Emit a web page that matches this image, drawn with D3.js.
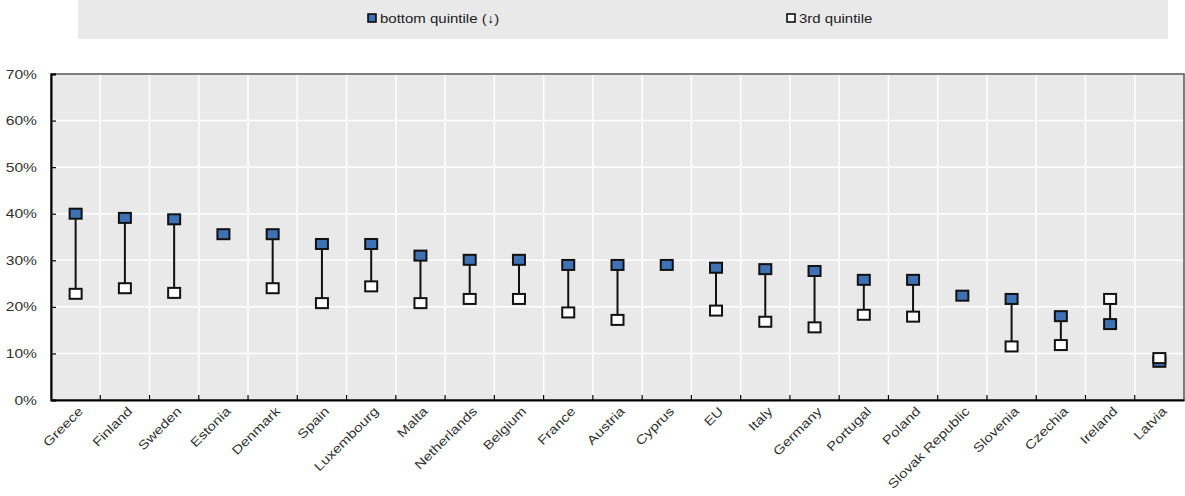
<!DOCTYPE html>
<html><head><meta charset="utf-8">
<script src="https://cdn.jsdelivr.net/npm/d3@7"></script>
<style>body{margin:0;background:#fff;}svg{display:block;font-family:"Liberation Sans",Arial,sans-serif;}</style>
</head><body><svg id="c" width="1185" height="496"></svg>
<script>
const categories = ["Greece","Finland","Sweden","Estonia","Denmark","Spain","Luxembourg","Malta","Netherlands","Belgium","France","Austria","Cyprus","EU","Italy","Germany","Portugal","Poland","Slovak Republic","Slovenia","Czechia","Ireland","Latvia"];
const bottomQuintile = [40.0,39.1,38.8,35.6,35.6,33.5,33.5,31.0,30.1,30.1,29.0,29.0,29.0,28.4,28.1,27.7,25.8,25.8,22.4,21.7,18.0,16.3,8.2];
const thirdQuintile = [22.8,24.0,23.0,null,24.0,20.8,24.4,20.8,21.7,21.7,18.8,17.2,null,19.2,16.8,15.6,18.3,17.9,null,11.5,11.8,21.7,9.0];
const yTicks = [0,10,20,30,40,50,60,70];
const seriesNames = ["bottom quintile (\u2193)","3rd quintile"];

const svg = d3.select("#c");
const m = {l:51, r:1184, t:74, b:400};
const x = d3.scaleBand().domain(categories).range([m.l, m.r]).padding(0);
const y = d3.scaleLinear().domain([0,70]).range([m.b, m.t]);
const blue = "#3f72b5";
const FONT = "Liberation Sans, Arial, sans-serif";

// legend
svg.append("rect").attr("x",78).attr("y",0).attr("width",1090).attr("height",39).attr("fill","#e9e9e9");
const leg = [{x:372, fill:blue, t:seriesNames[0]},{x:791, fill:"#fff", t:seriesNames[1]}];
leg.forEach(d=>{
  svg.append("rect").attr("x",d.x-4).attr("y",14).attr("width",8).attr("height",8).attr("fill",d.fill).attr("stroke","#000").attr("stroke-width",1.5);
  svg.append("text").attr("transform",`translate(${d.x+8},23) scale(1.2,1)`).attr("font-size",12.5).attr("fill","#222").text(d.t);
});

// plot bg
svg.append("rect").attr("x",m.l).attr("y",m.t).attr("width",m.r-m.l).attr("height",m.b-m.t).attr("fill","#e9e9e9");
// grid
svg.append("g").selectAll("line").data(yTicks.slice(1)).join("line")
  .attr("x1",m.l).attr("x2",m.r).attr("y1",d=>y(d)).attr("y2",d=>y(d)).attr("stroke","#fff").attr("stroke-width",1.5);
svg.append("g").selectAll("line").data(categories.slice(1)).join("line")
  .attr("x1",d=>x(d)).attr("x2",d=>x(d)).attr("y1",m.t).attr("y2",m.b).attr("stroke","#fff").attr("stroke-width",1.5);
// frame
svg.append("rect").attr("x",m.l).attr("y",m.t).attr("width",m.r-m.l).attr("height",m.b-m.t).attr("fill","none").attr("stroke","#555").attr("stroke-width",1.5);

// y axis
const ya = svg.append("g").attr("transform",`translate(${m.l},0)`)
  .call(d3.axisLeft(y).tickValues(yTicks).tickSize(-5).tickPadding(14).tickFormat(d=>d+"%"));
ya.select(".domain").attr("stroke","#000").attr("stroke-width",2);
ya.selectAll(".tick line").attr("stroke","#000").attr("stroke-width",1.2);
ya.selectAll(".tick text").each(function(){
  const t=d3.select(this); const xx=+t.attr("x");
  t.attr("x",null).attr("transform",`translate(${xx},0) scale(1.25,1)`);
}).attr("font-size",12.5).attr("fill","#333").attr("font-family",FONT);

// x axis
const xa = svg.append("g").attr("transform",`translate(0,${m.b})`)
  .call(d3.axisBottom(x).tickSize(0).tickSizeOuter(0).tickFormat(""));
xa.select(".domain").attr("stroke","#000").attr("stroke-width",2);
svg.append("g").selectAll("text").data(categories).join("text")
  .attr("transform",d=>`translate(${x(d)+x.bandwidth()/2+5},${m.b+9}) rotate(-45) scale(1.22,1)`)
  .attr("text-anchor","end").attr("dy","0.35em").attr("font-size",12.5).attr("fill","#333").attr("font-family",FONT)
  .text(d=>d);
// boundary ticks
svg.append("g").selectAll("line").data(categories.slice(1)).join("line")
  .attr("x1",d=>x(d)).attr("x2",d=>x(d)).attr("y1",m.b).attr("y2",m.b-5).attr("stroke","#000").attr("stroke-width",1.2);

// connectors
const cx = d=>x(d)+x.bandwidth()/2;
svg.append("g").selectAll("line").data(categories.map((c,i)=>({c,a:bottomQuintile[i],b:thirdQuintile[i]})).filter(d=>d.b!=null))
  .join("line").attr("x1",d=>cx(d.c)).attr("x2",d=>cx(d.c)).attr("y1",d=>y(d.a)).attr("y2",d=>y(d.b))
  .attr("stroke","#111").attr("stroke-width",2);
// markers
const mw=12, mh=10;
svg.append("g").selectAll("rect").data(categories.map((c,i)=>({c,v:bottomQuintile[i]}))).join("rect")
  .attr("x",d=>cx(d.c)-mw/2).attr("y",d=>y(d.v)-mh/2).attr("width",mw).attr("height",mh)
  .attr("fill",blue).attr("stroke","#111").attr("stroke-width",2);
svg.append("g").selectAll("rect").data(categories.map((c,i)=>({c,v:thirdQuintile[i]})).filter(d=>d.v!=null)).join("rect")
  .attr("x",d=>cx(d.c)-mw/2).attr("y",d=>y(d.v)-mh/2).attr("width",mw).attr("height",mh)
  .attr("fill","#fff").attr("stroke","#111").attr("stroke-width",2);
</script></body></html>
